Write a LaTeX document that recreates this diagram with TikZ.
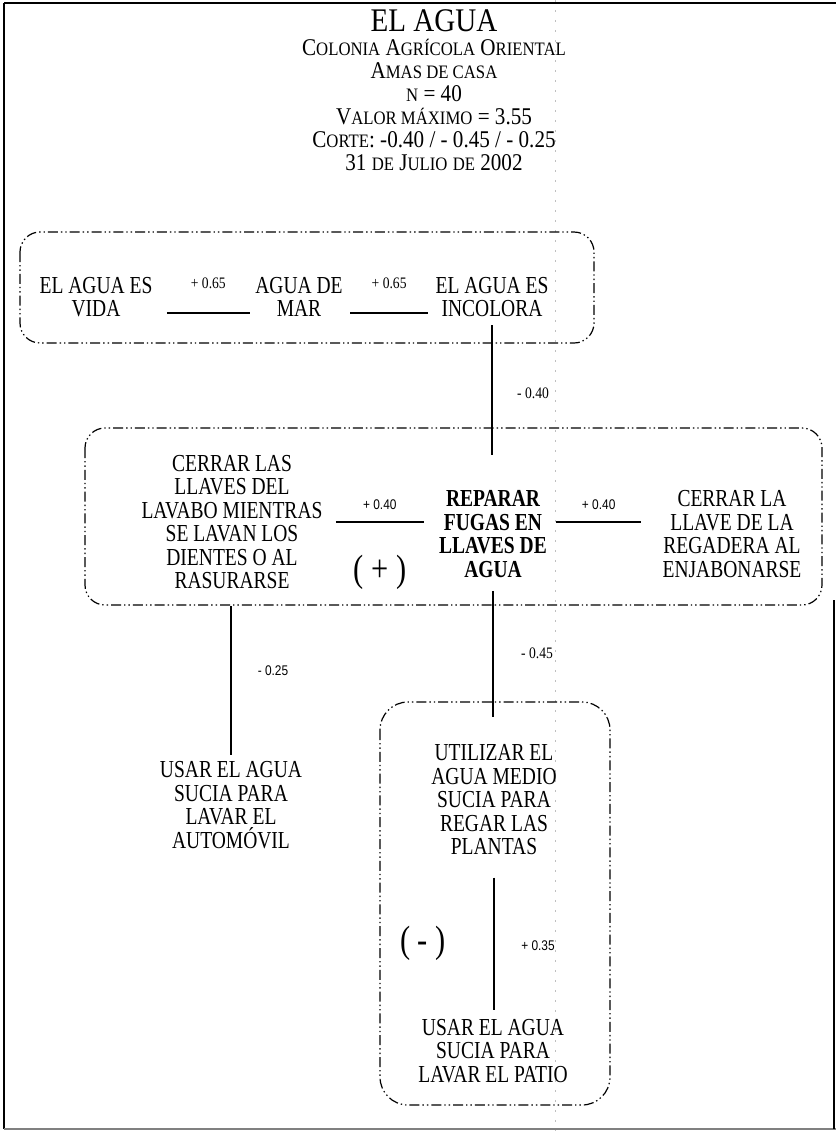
\documentclass[tikz,border=0pt]{standalone}
\usepackage{fontspec}
\setmainfont[FakeStretch=0.8]{Liberation Serif}
\newfontfamily\hdfont[FakeStretch=0.88]{Liberation Serif}
\newfontfamily\lblsans[FakeStretch=0.85]{Liberation Sans}
\newfontfamily\lblserif[FakeStretch=0.85]{Liberation Serif}
\newcommand\smc[1]{{\fontsize{9.5}{11}\selectfont #1}}
\tikzset{
  grp/.style={line width=0.6pt, rounded corners=10pt,
    dash pattern=on 5pt off 1.5pt on 0.7pt off 1.5pt on 0.7pt off 1.5pt},
  conn/.style={line width=0.75pt},
  txt/.style={align=center, inner sep=0pt, font=\fontsize{12.2}{11.75}\selectfont},
  btxt/.style={txt, font=\fontsize{12.2}{11.75}\selectfont\bfseries},
  lbl/.style={inner sep=0pt, font=\lblsans\fontsize{7}{8}\selectfont},
  slbl/.style={inner sep=0pt, font=\lblserif\fontsize{8}{9}\selectfont},
  hd/.style={inner sep=0pt, anchor=base, font=\hdfont\fontsize{12}{14}\selectfont},
  signtxt/.style={inner sep=0pt, font=\fontsize{19}{21}\selectfont},
}
\begin{document}
\begin{tikzpicture}[x=0.5pt, y=-0.5pt]
\useasboundingbox (0,0) rectangle (836,1131);
% frame
\draw[line width=1.2pt] (4,3) -- (836,3);
\draw[line width=1pt] (4,3) -- (4,1129);
\draw[gray, line width=0.8pt] (4,1129) -- (836,1129);
\draw[line width=0.8pt] (834,600) -- (834,1129);
\draw[gray!50, line width=0.4pt, dash pattern=on 1pt off 4pt] (555,0) -- (555,1131);
% header
\node[hd, font=\hdfont\fontsize{16.5}{19}\selectfont] (t0) at (434,31) {EL AGUA};
\node[hd] (t1) at (434,55) {C\smc{OLONIA} A\smc{GRÍCOLA} O\smc{RIENTAL}};
\node[hd] (t2) at (434,78) {A\smc{MAS DE CASA}};
\node[hd] (t3) at (434,101) {\smc{N} = 40};
\node[hd] (t4) at (434,124) {V\smc{ALOR MÁXIMO} = 3.55};
\node[hd] (t5) at (434,147) {C\smc{ORTE}: -0.40 / - 0.45 / - 0.25};
\node[hd] (t6) at (434,170) {31 \smc{DE} J\smc{ULIO} \smc{DE} 2002};
% box 1
\draw[grp] (20,232) rectangle (594,343);
\node[txt] (v1) at (96,297) {EL AGUA ES\\VIDA};
\node[txt] (v2) at (299,297) {AGUA DE\\MAR};
\node[txt] (v3) at (492,297) {EL AGUA ES\\INCOLORA};
\draw[conn] ([xshift=7pt, yshift=-8pt]v1.east) -- ([xshift=-2.5pt, yshift=-8pt]v2.west)
  node[slbl, midway, above=12pt] {+ 0.65};
\draw[conn] ([xshift=3.5pt, yshift=-8pt]v2.east) -- ([xshift=-3.5pt, yshift=-8pt]v3.west)
  node[slbl, midway, above=12pt] {+ 0.65};
% box 2
\draw[grp] (85,428) rectangle (822,605);
\node[txt] (c1) at (232,522) {CERRAR LAS\\LLAVES DEL\\LAVABO MIENTRAS\\SE LAVAN LOS\\DIENTES O AL\\RASURARSE};
\node[btxt] (rep) at (493,534) {REPARAR\\FUGAS EN\\LLAVES DE\\AGUA};
\node[txt] (c3) at (732,534) {CERRAR LA\\LLAVE DE LA\\REGADERA AL\\ENJABONARSE};
\draw[conn, shorten <=4pt, shorten >=17.5pt] (v3.south) -- (v3.south |- rep.north);
\node[slbl] (l40) at (533,393) {- 0.40};
\draw[conn] ([xshift=6.5pt]c1.east) -- ([xshift=-7.5pt]c1.east -| rep.west)
  node[lbl, midway, above=6pt] {+ 0.40};
\draw[conn] ([xshift=4.5pt]rep.east |- c1.east) -- ([xshift=-10.5pt]c1.east -| c3.west)
  node[lbl, midway, above=6pt] {+ 0.40};
\node[signtxt] (plus) at (380,572) {( + )};
% left branch
\node[txt] (u1) at (231,805) {USAR EL AGUA\\SUCIA PARA\\LAVAR EL\\AUTOMÓVIL};
\draw[conn, shorten <=8.5pt, shorten >=3pt] (c1.south -| u1.north) -- (u1.north);
\node[lbl] (l25) at (273,671) {- 0.25};
% box 3
\draw[grp, rounded corners=14pt] (380,702) rectangle (610,1105);
\node[txt] (p1) at (494,800) {UTILIZAR EL\\AGUA MEDIO\\SUCIA PARA\\REGAR LAS\\PLANTAS};
\node[txt] (p2) at (493,1051) {USAR EL AGUA\\SUCIA PARA\\LAVAR EL PATIO};
\draw[conn, shorten <=6.5pt, shorten >=13.5pt] (rep.south) -- (rep.south |- p1.north);
\node[slbl] (l45) at (537,653) {- 0.45};
\draw[conn, shorten <=11pt, shorten >=4.5pt] (p1.south) -- (p1.south |- p2.north);
\node[lbl] (l35) at (538,946) {+ 0.35};
\node[signtxt] (minus) at (423,943) {( - )};
\end{tikzpicture}
\end{document}
